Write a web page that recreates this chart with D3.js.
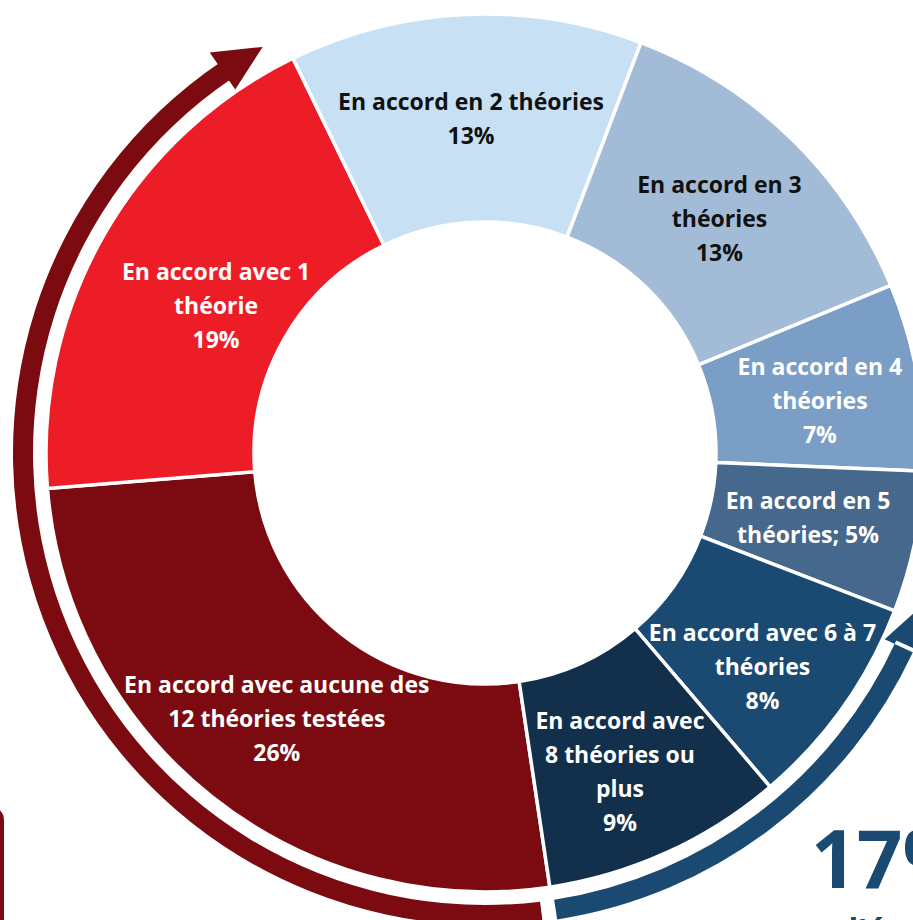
<!DOCTYPE html>
<html>
<head>
<meta charset="utf-8">
<script src="https://cdn.jsdelivr.net/npm/d3@7"></script>
<style>
  html, body { margin: 0; padding: 0; background: #fff; }
  svg { display: block; }
  text { font-family: "Open Sans", Lato, sans-serif; font-weight: bold; }
</style>
</head>
<body>
<svg id="chart" width="913" height="920"></svg>
<script>
// categories, clockwise from the bottom
var categories = ['aucune', '1', '2', '3', '4', '5', '6-7', '8+'];
// shares in percent
var shares = [26.1, 19.1, 13.0, 13.0, 6.9, 5.2, 7.9, 8.9];
// label texts as printed on the chart
var labels = [
    ['En accord avec aucune des', '12 théories testées', '26%'],
    ['En accord avec 1', 'théorie', '19%'],
    ['En accord en 2 théories', '13%'],
    ['En accord en 3', 'théories', '13%'],
    ['En accord en 4', 'théories', '7%'],
    ['En accord en 5', 'théories; 5%'],
    ['En accord avec 6 à 7', 'théories', '8%'],
    ['En accord avec', '8 théories ou', 'plus', '9%']
];
var bigValue = '17%';
var bigCaption = "d'études";

var colors = ['#7B0B10', '#ED1D27', '#C8E0F4', '#A2BBD6', '#7A9EC5', '#46688D', '#1A4A71', '#12304B'];
var textColors = ['#fff', '#fff', '#111', '#111', '#fff', '#fff', '#fff', '#fff'];
// Excel "best fit" moves some labels off the centroid
var labelNudge = [[0, 3], [22, 18], [1, 0], [1, 5], [5, 5], [-5, -4], [4, 19], [-4, 13]];

var svg = d3.select('#chart');
var cx = 485, cy = 453;
var rIn = 231, rOut = 439;
var deg = Math.PI / 180;
var start = 171.5;

var g = svg.append('g').attr('transform', 'translate(' + cx + ',' + cy + ')');

var pie = d3.pie().sort(null)
    .startAngle(start * deg)
    .endAngle((start + 360) * deg);
var arcs = pie(shares);

var arc = d3.arc().innerRadius(rIn).outerRadius(rOut);

g.selectAll('path.slice')
    .data(arcs)
    .enter().append('path')
    .attr('class', 'slice')
    .attr('d', arc)
    .style('fill', function(d, i) { return colors[i]; })
    .style('stroke', '#fff')
    .style('stroke-width', 3.5);

// polar helper, angle in degrees clockwise from top
function polar(a, r) {
    return [r * Math.sin(a * deg), -r * Math.cos(a * deg)];
}

// curved arrows around the donut
function arrowPath(a0, a1, headBase, tip) {
    var shaft = d3.arc().innerRadius(452).outerRadius(472)
        .startAngle(Math.min(a0, a1) * deg).endAngle(Math.max(a0, a1) * deg)();
    var p1 = polar(headBase, 441), p2 = polar(headBase, 486), p3 = polar(tip, 463);
    return shaft + 'M' + p1 + 'L' + p2 + 'L' + p3 + 'Z';
}

g.append('path')
    .attr('d', arrowPath(173, 326, 325.5, 331.3))
    .style('fill', '#7B0B10');

g.append('path')
    .attr('d', arrowPath(114.5, 171.2, 115, 109.2))
    .style('fill', '#1A4A71');

// slice labels
var labelArc = d3.arc().innerRadius(335).outerRadius(335);
var lineH = 34;
arcs.forEach(function(d, i) {
    var c = labelArc.centroid(d);
    var x = c[0] + labelNudge[i][0], y = c[1] + labelNudge[i][1];
    var lines = labels[i];
    var t = g.append('text')
        .attr('text-anchor', 'middle')
        .style('font-size', '23px')
        .style('fill', textColors[i]);
    lines.forEach(function(s, j) {
        t.append('tspan')
            .attr('x', x)
            .attr('y', y + (j - (lines.length - 1) / 2) * lineH)
            .attr('dominant-baseline', 'central')
            .text(s);
    });
});

// big figure at bottom right, cut by the frame
svg.append('text')
    .attr('x', 811).attr('y', 888)
    .style('font-size', '80px')
    .style('fill', '#1A4A71')
    .text(bigValue);
svg.append('text')
    .attr('x', 838).attr('y', 942)
    .style('font-size', '32px')
    .style('fill', '#1A4A71')
    .text(bigCaption);

// box on the left, mostly off the frame
svg.append('rect')
    .attr('x', -300).attr('y', 808)
    .attr('width', 302).attr('height', 300)
    .attr('rx', 12)
    .style('fill', 'none')
    .style('stroke', '#7B0B10')
    .style('stroke-width', 4);
</script>
</body>
</html>
